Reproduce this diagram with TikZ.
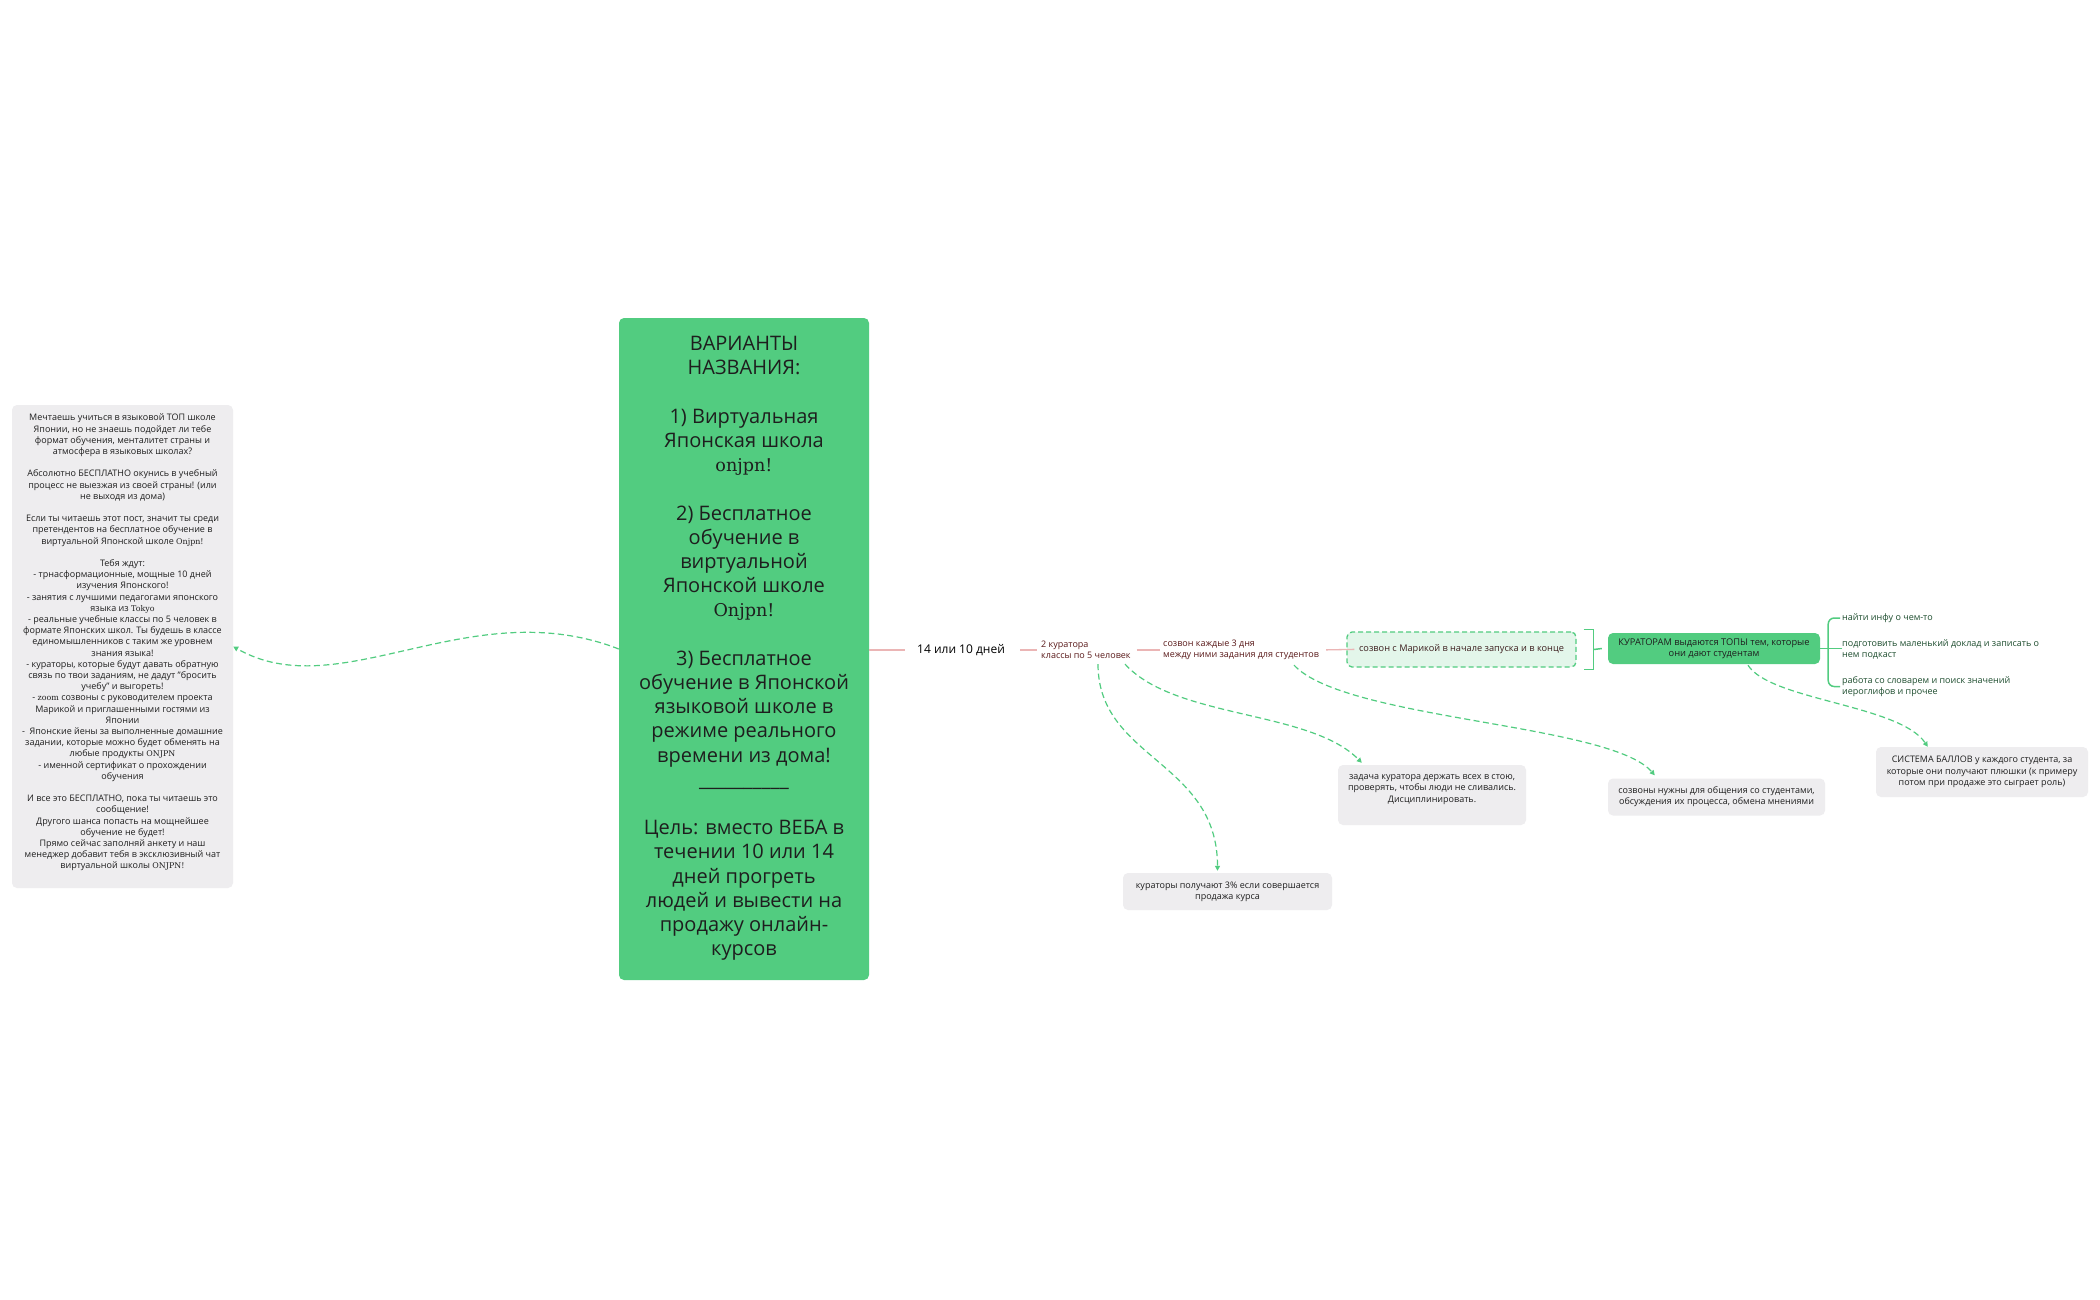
\documentclass[tikz,border=0pt]{standalone}
\usepackage{fontspec}
\setsansfont{Open Sans}
\newfontfamily\serifw{DejaVu Serif}[Scale=0.88]
\usetikzlibrary{arrows.meta,calc}
\definecolor{cgreen}{HTML}{52CC80}
\definecolor{cgray}{HTML}{EEEDEF}
\definecolor{clight}{HTML}{E3F6EA}
\definecolor{cred}{HTML}{EBB5B5}
\definecolor{cdred}{HTML}{5A1A1A}
\definecolor{cdbrown}{HTML}{3D1F1F}
\definecolor{cdgreen}{HTML}{1D4D2E}
\definecolor{ctxt}{HTML}{1E1E1E}
\newcommand\latw[1]{{\serifw #1}}
\begin{document}
\begin{tikzpicture}[x=1pt,y=-1pt,
  sm/.style={font=\sffamily\fontsize{9}{11.2}\selectfont, inner sep=0pt, text=ctxt},
  graybox/.style={fill=cgray, rounded corners=5pt, draw=none, inner sep=0pt},
  redline/.style={draw=cred, line width=1.3pt},
  greenline/.style={draw=cgreen, line width=1.5pt},
  dashcon/.style={draw=cgreen, line width=1.2pt, dash pattern=on 6pt off 3.5pt, -{Triangle[length=5pt,width=5pt]}}]
\fill[white] (0,0) rectangle (2100,1299);
\useasboundingbox (0,0) rectangle (2100,1299);

% left box
\node[graybox, minimum width=221pt, minimum height=483pt] (lb) at (122.5,646.5) {};
\node[sm, align=center] (lbt) at (122.5,642.5) {Мечтаешь учиться в языковой ТОП школе\\
Японии, но не знаешь подойдет ли тебе\\
формат обучения, менталитет страны и\\
атмосфера в языковых школах?\\
~\\
Абсолютно БЕСПЛАТНО окунись в учебный\\
процесс не выезжая из своей страны! (или\\
не выходя из дома)\\
~\\
Если ты читаешь этот пост, значит ты среди\\
претендентов на бесплатное обучение в\\
виртуальной Японской школе \latw{Onjpn!}\\
~\\
Тебя ждут:\\
- трнасформационные, мощные 10 дней\\
изучения Японского!\\
- занятия с лучшими педагогами японского\\
языка из \latw{Tokyo}\\
- реальные учебные классы по 5 человек в\\
формате Японских школ. Ты будешь в классе\\
единомышленников с таким же уровнем\\
знания языка!\\
- кураторы, которые будут давать обратную\\
связь по твои заданиям, не дадут "бросить\\
учебу" и выгореть!\\
- \latw{zoom} созвоны с руководителем проекта\\
Марикой и приглашенными гостями из\\
Японии\\
-\ \ Японские йены за выполненные домашние\\
задании, которые можно будет обменять на\\
любые продукты \latw{ONJPN}\\
- именной сертификат о прохождении\\
обучения\\
~\\
И все это БЕСПЛАТНО, пока ты читаешь это\\
сообщение!\\
Другого шанса попасть на мощнейшее\\
обучение не будет!\\
Прямо сейчас заполняй анкету и наш\\
менеджер добавит тебя в эксклюзивный чат\\
виртуальной школы \latw{ONJPN!}};

% central box
\node[fill=cgreen, rounded corners=5pt, minimum width=250pt, minimum height=662pt, inner sep=0pt] (cb) at (744,649) {};
\node[font=\sffamily\fontsize{20}{24.2}\selectfont, align=center, inner sep=0pt, text=ctxt] (cbt) at (744,648.5) {ВАРИАНТЫ\\
НАЗВАНИЯ:\\
~\\
1) Виртуальная\\
Японская школа\\
\latw{onjpn!}\\
~\\
2) Бесплатное\\
обучение в\\
виртуальной\\
Японской школе\\
\latw{Onjpn!}\\
~\\
3) Бесплатное\\
обучение в Японской\\
языковой школе в\\
режиме реального\\
времени из дома!\\
\_\_\_\_\_\_\_\_\_\_\\
~\\
Цель: вместо ВЕБА в\\
течении 10 или 14\\
дней прогреть\\
людей и вывести на\\
продажу онлайн-\\
курсов};

% chain
\node[anchor=west, inner sep=0pt, font=\sffamily\fontsize{12}{14}\selectfont, text=black] (t14) at (917,650) {14 или 10 дней};
\node[sm, anchor=west, align=left, text=cdred] (cur) at (1041,650) {2 куратора\\классы по 5 человек};
\node[sm, anchor=west, align=left, text=cdred] (szv) at (1163,650) {созвон каждые 3 дня\\между ними задания для студентов};
\node[draw=cgreen, fill=clight, line width=1.3pt, dash pattern=on 5pt off 3pt, rounded corners=5pt, minimum width=229pt, minimum height=35pt, inner sep=0pt, font=\sffamily\fontsize{9.2}{11.2}\selectfont, text=cdbrown] (mb) at (1461.5,649.5) {созвон с Марикой в начале запуска и в конце};
\node[fill=cgreen, rounded corners=5pt, minimum width=212pt, minimum height=31pt, inner sep=0pt, align=center, font=\sffamily\fontsize{9.3}{11}\selectfont, text=ctxt] (kb) at (1714,648.5) {КУРАТОРАМ выдаются ТОПЫ тем, которые\\они дают студентам};

\draw[redline, shorten >=12pt] (cb.east |- t14.west) -- (t14.west);
\draw[redline, shorten <=15pt, shorten >=4pt] (t14.east) -- (cur.west);
\draw[redline, shorten <=6pt, shorten >=3pt] (cur.east) -- (szv.west);
\draw[redline, shorten <=7pt, shorten >=-8pt] (szv.east) -- (mb.west);

% bracket
\draw[greenline] ($(mb.north east)+(7,-2)$) -- ($(mb.north east)+(17,-2)$) -- ($(mb.south east)+(17,2)$) -- ($(mb.south east)+(7,2)$);
\draw[greenline] ($(mb.east)+(17,0)$) -- ($(kb.west)+(-6,0)$);

% right items
\node[sm, anchor=west, align=left, text=cdgreen] (i1) at (1842,618) {найти инфу о чем-то};
\node[sm, anchor=west, align=left, text=cdgreen] (i2) at (1842,649.5) {подготовить маленький доклад и записать о\\нем подкаст};
\node[sm, anchor=west, align=left, text=cdgreen] (i3) at (1842,686.5) {работа со словарем и поиск значений\\иероглифов и прочее};
\coordinate (brc) at ($(kb.east)+(8,0)$);
\draw[greenline] (kb.east) -- (kb.east -| i2.west);
\draw[greenline, rounded corners=6pt] ($(i1.west)+(-2,0)$) -| (brc) |- ($(i3.west)+(-2,0)$);

% gray boxes
\node[graybox, minimum width=188pt, minimum height=60pt] (g1) at (1432,795) {};
\node[sm, align=center] (g1t) at (1432,789.5) {задача куратора держать всех в стою,\\проверять, чтобы люди не сливались.\\Дисциплинировать.};
\node[graybox, sm, align=center, minimum width=217pt, minimum height=37pt] (g2) at (1716.5,797) {созвоны нужны для общения со студентами,\\обсуждения их процесса, обмена мнениями};
\node[graybox, sm, align=center, minimum width=212pt, minimum height=50pt] (g3) at (1982,772) {СИСТЕМА БАЛЛОВ у каждого студента, за\\которые они получают плюшки (к примеру\\потом при продаже это сыграет роль)};
\node[graybox, sm, align=center, minimum width=209pt, minimum height=37pt] (g4) at (1227.5,891.5) {кураторы получают 3\% если совершается\\продажа курса};

% dashed connectors
\draw[dashcon] ($(cur.south west)+(57,5)$) .. controls +(0,95) and +(0,-110) .. ($(g4.north)+(-10,-2)$);
\draw[dashcon] ($(cur.south west)+(84,5)$) .. controls +(50,55) and +(-52,-53) .. ($(g1.north west)+(24,-2)$);
\draw[dashcon] ($(szv.south west)+(131,5)$) .. controls +(51,55) and +(-45,-52) .. ($(g2.north west)+(47,-3)$);
\draw[dashcon] ($(kb.south)+(34,1)$) .. controls +(22,35) and +(-28,-42) .. ($(g3.north west)+(52,0)$);
\draw[dashcon] (cb.west) .. controls +(-149,-58) and +(107,61) .. (lb.east);
\end{tikzpicture}
\end{document}
